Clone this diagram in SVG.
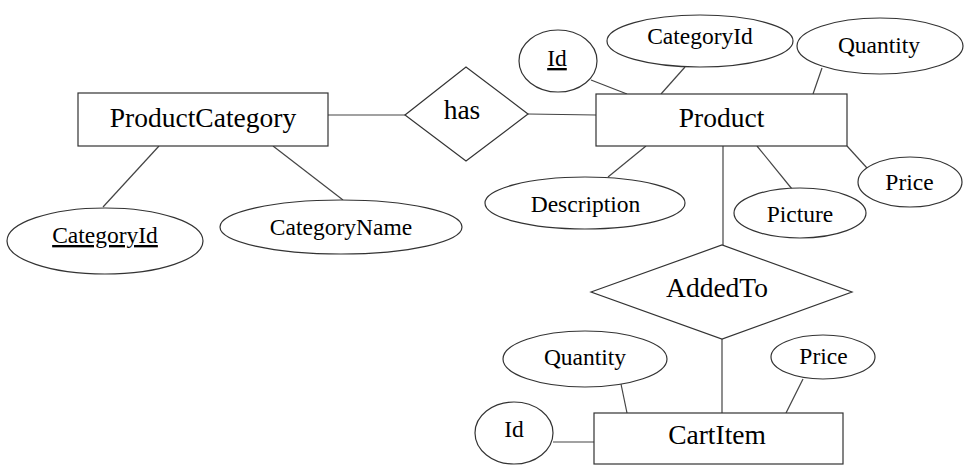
<svg xmlns="http://www.w3.org/2000/svg" width="968" height="474" viewBox="0 0 968 474">
<style>
.shape{fill:#fff;stroke:#333;stroke-width:1.2}
.con line{stroke:#444;stroke-width:1.2}
.big{font-family:"Liberation Serif","Times New Roman",serif;font-size:27.5px;fill:#000;text-anchor:middle}
.att{font-family:"Liberation Serif","Times New Roman",serif;font-size:23.5px;fill:#000;text-anchor:middle}
.key{text-decoration:underline}
</style>
<rect width="968" height="474" fill="#fff"/>
<g id="connectors" class="con">
<line x1="328" y1="115" x2="405" y2="115"/>
<line x1="528" y1="114" x2="596" y2="115"/>
<line x1="159" y1="146" x2="103" y2="207"/>
<line x1="273" y1="146" x2="343" y2="200"/>
<line x1="591" y1="80" x2="627" y2="94"/>
<line x1="685" y1="67" x2="661" y2="94"/>
<line x1="822" y1="68" x2="813" y2="94"/>
<line x1="646" y1="146" x2="608" y2="177"/>
<line x1="757" y1="146" x2="792" y2="189"/>
<line x1="847" y1="146" x2="867" y2="168"/>
<line x1="723" y1="146" x2="723" y2="245"/>
<line x1="722" y1="339" x2="722" y2="413"/>
<line x1="621" y1="384" x2="627" y2="413"/>
<line x1="803" y1="379" x2="786" y2="413"/>
<line x1="553" y1="442" x2="597" y2="442"/>
</g>
<g id="ProductCategory">
<rect class="shape" x="78" y="93" width="250" height="53"/>
<text class="big" x="203" y="127">ProductCategory</text>
</g>
<g id="has">
<polygon class="shape" points="405,115 466,67 528,114 466,161"/>
<text class="big" x="462" y="119">has</text>
</g>
<g id="Product">
<rect class="shape" x="596" y="94" width="251" height="52"/>
<text class="big" x="721.5" y="127">Product</text>
</g>
<g id="AddedTo">
<polygon class="shape" points="591,292 722,245 852,292 722,339"/>
<text class="big" x="717" y="297">AddedTo</text>
</g>
<g id="CartItem">
<rect class="shape" x="594" y="413" width="249" height="51"/>
<text class="big" x="717" y="444">CartItem</text>
</g>
<g id="pc-CategoryId">
<ellipse class="shape" cx="105" cy="241" rx="98" ry="33"/>
<text class="att key" x="105" y="243">CategoryId</text>
</g>
<g id="pc-CategoryName">
<ellipse class="shape" cx="341" cy="227" rx="121" ry="27"/>
<text class="att" x="341" y="235">CategoryName</text>
</g>
<g id="p-Id">
<ellipse class="shape" cx="558" cy="61" rx="39" ry="31"/>
<text class="att key" x="557" y="66">Id</text>
</g>
<g id="p-CategoryId">
<ellipse class="shape" cx="700" cy="41" rx="93" ry="26"/>
<text class="att" x="700" y="44">CategoryId</text>
</g>
<g id="p-Quantity">
<ellipse class="shape" cx="880" cy="46" rx="83" ry="28"/>
<text class="att" x="879" y="53">Quantity</text>
</g>
<g id="p-Description">
<ellipse class="shape" cx="585" cy="203" rx="100" ry="26"/>
<text class="att" x="585.5" y="212">Description</text>
</g>
<g id="p-Picture">
<ellipse class="shape" cx="800" cy="213" rx="66" ry="25"/>
<text class="att" x="800" y="222">Picture</text>
</g>
<g id="p-Price">
<ellipse class="shape" cx="910" cy="182" rx="52" ry="25"/>
<text class="att" x="909.5" y="190">Price</text>
</g>
<g id="c-Quantity">
<ellipse class="shape" cx="585" cy="359" rx="82" ry="28"/>
<text class="att" x="585" y="365">Quantity</text>
</g>
<g id="c-Price">
<ellipse class="shape" cx="823" cy="357" rx="52" ry="22"/>
<text class="att" x="823.5" y="364">Price</text>
</g>
<g id="c-Id">
<ellipse class="shape" cx="514" cy="433" rx="39" ry="31"/>
<text class="att" x="514" y="437">Id</text>
</g>
</svg>
